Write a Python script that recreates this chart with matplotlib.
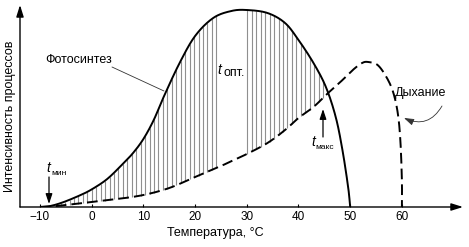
import numpy as np
import matplotlib
matplotlib.use("Agg")
import matplotlib.pyplot as plt

plt.rcParams['font.family'] = ['Liberation Sans', 'DejaVu Sans']

# ---- data ----
photo_T = [-10, -8, -5.5, -2.3, 0, 3, 6, 8, 10, 12, 14, 17, 20, 23.5, 27, 30, 34,
           37.4, 40, 42.9, 45.3, 47.2, 48.5, 49.6, 50]
photo_V = [0, 0.5, 2.4, 5.8, 8.8, 14, 21.5, 27, 34, 43.5, 55.5, 72, 85.5, 94.5, 98,
           98.5, 97, 92, 83.5, 72, 60, 45, 28.5, 10, 0]

resp_T = [-10, -8, -5, 0, 5, 10, 15, 20, 25, 27.5, 30, 34, 37.4, 40, 42.9, 45.3,
          47.9, 50.5, 52.3, 53.5, 55.3, 57, 58.3, 59.2, 59.7, 60, 60]
resp_V = [0, 0.2, 1, 2.5, 4, 6, 9.5, 15, 20.5, 23.5, 26.5, 32, 38.5, 44.5, 50, 56,
          62, 68.5, 72, 72.5, 71, 65, 57.5, 47, 33.5, 13.5, 0]

xticks = [-10, 0, 10, 20, 30, 40, 50, 60]
xtick_labels = ["\u221210", "0", "10", "20", "30", "40", "50", "60"]


def smooth(x, y, n=24):
    sx, sy = np.asarray(x, float) * 5.17, np.asarray(y, float) * 2.0
    P = np.column_stack([sx, sy])
    P = np.vstack([2 * P[0] - P[1], P, 2 * P[-1] - P[-2]])
    out = []
    t = np.linspace(0, 1, n, endpoint=False)[:, None]
    for i in range(1, len(P) - 2):
        p0, p1, p2, p3 = P[i - 1], P[i], P[i + 1], P[i + 2]
        pts = 0.5 * ((2 * p1) + (-p0 + p2) * t + (2 * p0 - 5 * p1 + 4 * p2 - p3) * t ** 2
                     + (-p0 + 3 * p1 - 3 * p2 + p3) * t ** 3)
        out.append(pts)
    out.append(P[-2][None])
    arr = np.vstack(out)
    return arr[:, 0] / 5.17, np.clip(arr[:, 1] / 2.0, 0, None)


W, H = 469, 247
fig = plt.figure(figsize=(W / 100, H / 100), dpi=100)
ax = fig.add_axes([20 / W, 40 / H, 443 / W, 202 / H])
ax.set_xlim(-13.87, 71.82)
ax.set_ylim(0, 101)
for s in ax.spines.values():
    s.set_visible(False)

px, pv = smooth(photo_T, photo_V)
rx, rv = smooth(resp_T, resp_V)

# hatching between curves
m = rx < 49
hx = np.arange(-6.0, 47.0, 0.86)
hx = hx[(hx < 24.4) | (hx > 29.6)]
top = np.interp(hx, px, pv)
bot = np.interp(hx, rx[m], rv[m])
keep = top > bot + 0.3
ax.vlines(hx[keep], bot[keep], top[keep], color='#8f8f8f', lw=0.8, zorder=1)

ax.plot(px, pv, color='black', lw=1.4, zorder=3, solid_capstyle='butt')
ax.plot(rx, rv, color='black', lw=1.4, ls=(0, (5.5, 2.6)), zorder=3)

# axes with arrows
ax.annotate('', xy=(0, 1.0), xytext=(0, 0), xycoords='axes fraction',
            arrowprops=dict(arrowstyle='-|>,head_length=0.7,head_width=0.22', lw=1,
                            color='black', shrinkA=0, shrinkB=0), annotation_clip=False)
ax.annotate('', xy=(1.0, 0), xytext=(0, 0), xycoords='axes fraction',
            arrowprops=dict(arrowstyle='-|>,head_length=0.7,head_width=0.22', lw=1,
                            color='black', shrinkA=0, shrinkB=0), annotation_clip=False)

ax.set_xticks(xticks)
ax.set_xticklabels(xtick_labels)
ax.set_yticks([])
ax.tick_params(axis='x', direction='in', length=2.5, width=0.8, pad=3, labelsize=8.5)

def fp(x, y):
    return (x, H - y)

fig.text(215 / W, 1 - 233 / H, "Температура, °C", ha='center', va='center', fontsize=9)
fig.text(10 / W, 1 - 116 / H, "Интенсивность процессов", ha='center', va='center',
         rotation=90, fontsize=9)

ax.annotate("Фотосинтез", xy=fp(79, 60), xycoords='figure pixels', ha='center',
            va='center', fontsize=9)
ax.annotate('', xy=fp(164, 91), xytext=fp(112, 67), xycoords='figure pixels',
            textcoords='figure pixels',
            arrowprops=dict(arrowstyle='-', lw=0.6, color='#333333', shrinkA=0, shrinkB=0))

ax.annotate("Дыхание", xy=fp(421, 93), xycoords='figure pixels', ha='center',
            va='center', fontsize=9)
ax.annotate('', xy=fp(404, 118), xytext=fp(442, 106), xycoords='figure pixels',
            textcoords='figure pixels',
            arrowprops=dict(arrowstyle='-|>,head_length=0.6,head_width=0.2', lw=0.6,
                            color='#333333', shrinkA=0, shrinkB=0,
                            connectionstyle='arc3,rad=-0.45'))

# t labels
ax.annotate("t", xy=fp(219, 70), xycoords='figure pixels', ha='center', va='center',
            fontsize=10, style='italic')
ax.annotate("опт.", xy=fp(234, 73), xycoords='figure pixels', ha='center', va='center',
            fontsize=9)

ax.annotate("t", xy=fp(48, 168), xycoords='figure pixels', ha='center', va='center',
            fontsize=10, style='italic')
ax.annotate("мин", xy=fp(59, 173), xycoords='figure pixels', ha='center', va='center',
            fontsize=6)
ax.annotate('', xy=fp(49, 204), xytext=fp(49, 177), xycoords='figure pixels',
            textcoords='figure pixels',
            arrowprops=dict(arrowstyle='-|>,head_length=0.6,head_width=0.2', lw=0.9,
                            color='black', shrinkA=0, shrinkB=0))

ax.annotate("t", xy=fp(313, 142), xycoords='figure pixels', ha='center', va='center',
            fontsize=10, style='italic')
ax.annotate("макс", xy=fp(325, 147), xycoords='figure pixels', ha='center', va='center',
            fontsize=6)
ax.annotate('', xy=fp(323, 109), xytext=fp(323, 137), xycoords='figure pixels',
            textcoords='figure pixels',
            arrowprops=dict(arrowstyle='-|>,head_length=0.6,head_width=0.2', lw=0.9,
                            color='black', shrinkA=0, shrinkB=0))

fig.savefig("out.png", dpi=100)
